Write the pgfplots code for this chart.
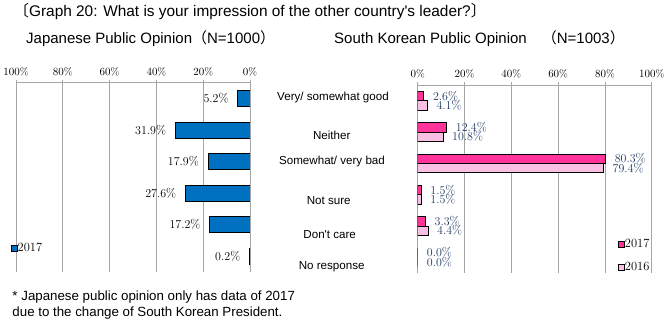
\documentclass[border=0pt]{standalone}
\usepackage{fontspec}
\usepackage{pgfplots}
\pgfplotsset{compat=1.18}
\newfontfamily\arial{Liberation Sans}
\newfontfamily\cjk{Noto Sans CJK JP}
\definecolor{jpblue}{HTML}{0070C0}
\definecolor{krA}{HTML}{FF3399}
\definecolor{krB}{HTML}{F9C0E4}
\definecolor{gridgray}{HTML}{A6A6A6}
\definecolor{navy}{HTML}{1F3864}
\pgfplotsset{
  panel/.style={
    scale only axis, width=234pt,
    xbar, xmin=0, xmax=100, ymin=-0.5, ymax=5.5,
    axis x line*=top, axis y line=none,
    xtick={0,20,...,100}, ytick=\empty,
    xticklabel={\pgfmathprintnumber{\tick}\%},
    tick align=outside, major tick length=3pt,
    xmajorgrids, grid style={gridgray, line width=0.8pt},
    x axis line style={gridgray, line width=0.8pt},
    every tick/.style={gridgray, line width=0.8pt},
    tick label style={font=\fontsize{10.5}{10.5}\selectfont},
    legend image code/.code={\draw[#1, line width=0.7pt] (0pt,-3pt) rectangle (6pt,3pt);},
    legend style={draw=none, fill=none, inner sep=0pt, outer sep=0pt,
      font=\fontsize{12.5}{12.5}\selectfont,
      nodes={inner sep=0pt, outer sep=0pt},
      /tikz/every even column/.style={column sep=2pt}},
    legend cell align=left,
  }
}
\begin{document}
\begin{tikzpicture}[x=1pt,y=1pt]
\path (0,0) rectangle (670,327);

% Japanese panel
\begin{axis}[panel,
  at={(16pt,55pt)}, anchor=south west, height=189.3pt,
  x dir=reverse, bar width=16pt,
  nodes near coords={\pgfmathprintnumber[fixed,fixed zerofill,precision=1]{\pgfplotspointmeta}\%},
  point meta=x,
  every node near coord/.append style={anchor=east, xshift=-5.5pt, font=\fontsize{12.3}{12.3}\selectfont, text=black},
  legend style={at={(axis description cs:-0.0214,0.127)}, anchor=west},
]
\addplot[fill=jpblue, draw=black, line width=0.8pt] coordinates {(5.2,5) (31.9,4) (17.9,3) (27.6,2) (17.2,1) (0.2,0)};
\legend{2017}
\end{axis}

% South Korean panel
\begin{axis}[panel,
  at={(417.7pt,54pt)}, anchor=south west, height=188pt,
  bar width=9.3pt,
  nodes near coords={\pgfmathprintnumber[fixed,fixed zerofill,precision=1]{\pgfplotspointmeta}\%},
  point meta=x,
  every node near coord/.append style={anchor=west, xshift=5.5pt, font=\fontsize{12.3}{12.3}\selectfont, text=navy},
  legend style={at={(axis description cs:0.857,0.092)}, anchor=west, row sep=13pt},
]
\addplot[fill=krA, draw=black, line width=0.8pt, bar shift=4.65pt] coordinates {(2.6,5) (12.4,4) (80.3,3) (1.5,2) (3.3,1) (0,0)};
\addplot[fill=krB, draw=black, line width=0.8pt, bar shift=-4.65pt] coordinates {(4.1,5) (10.8,4) (79.4,3) (1.5,2) (4.4,1) (0,0)};
\legend{2017,2016}
\end{axis}

% category labels
\begin{scope}[every node/.style={font=\arial\fontsize{11.6}{12}\selectfont, inner sep=0pt}]
\node at (333,229.3) {Very/ somewhat good};
\node at (331.7,191.3) {Neither};
\node at (332,165.3) {Somewhat/ very bad};
\node at (328.7,126.3) {Not sure};
\node at (329.7,92.7) {Don't care};
\node at (331.7,60.3) {No response};
\end{scope}

% titles
\node[anchor=base west, inner sep=0pt, font=\arial\fontsize{15.4}{15.4}\selectfont] at (13.5,310.3)
  {{\cjk 〔}Graph 20: What is your impression of the other country's leader?{\cjk 〕}};
\node[anchor=base west, inner sep=0pt, font=\arial\fontsize{15}{15}\selectfont] at (26,283)
  {Japanese Public Opinion{\cjk （}N=1000{\cjk ）}};
\node[anchor=base west, inner sep=0pt, font=\arial\fontsize{15}{15}\selectfont] at (334,283)
  {South Korean Public Opinion{\cjk 　（}N=1003{\cjk ）}};

% footnote
\node[anchor=base west, inner sep=0pt, font=\arial\fontsize{13.3}{13.3}\selectfont] at (12.3,26.3)
  {* Japanese public opinion only has data of 2017};
\node[anchor=base west, inner sep=0pt, font=\arial\fontsize{13.3}{13.3}\selectfont] at (12.3,10.3)
  {due to the change of South Korean President.};
\end{tikzpicture}
\end{document}
